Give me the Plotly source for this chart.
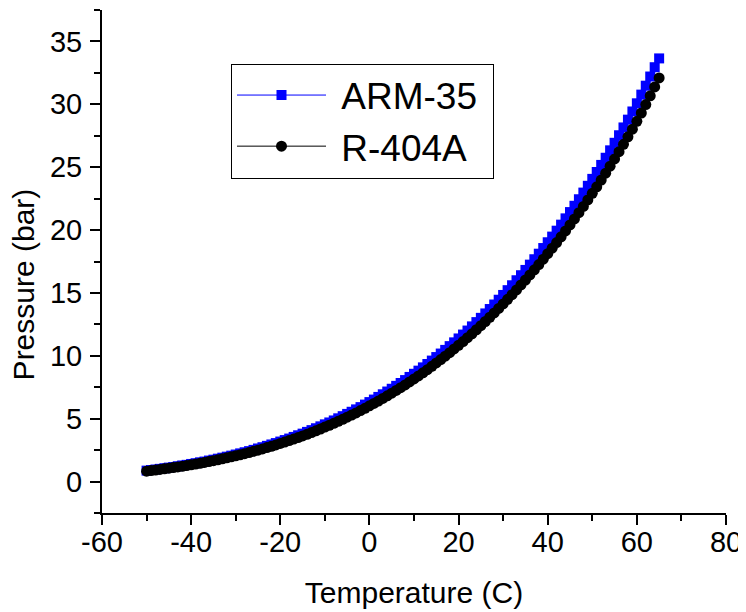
import plotly.graph_objects as go

temperature = list(range(-50, 66))

arm35 = [
    0.87, 0.92, 0.96, 1.01, 1.06, 1.11, 1.16, 1.22, 1.28, 1.33,
    1.40, 1.46, 1.53, 1.59, 1.67, 1.74, 1.82, 1.90, 1.98, 2.06,
    2.15, 2.24, 2.33, 2.42, 2.52, 2.63, 2.73, 2.84, 2.95, 3.06,
    3.18, 3.30, 3.42, 3.55, 3.68, 3.81, 3.95, 4.09, 4.24, 4.39,
    4.55, 4.70, 4.86, 5.03, 5.20, 5.38, 5.55, 5.74, 5.92, 6.12,
    6.32, 6.52, 6.73, 6.94, 7.16, 7.38, 7.61, 7.84, 8.07, 8.32,
    8.57, 8.82, 9.08, 9.35, 9.62, 9.90, 10.18, 10.47, 10.77, 11.07,
    11.38, 11.69, 12.01, 12.34, 12.68, 13.02, 13.37, 13.72, 14.08, 14.46,
    14.84, 15.22, 15.61, 16.01, 16.41, 16.83, 17.25, 17.68, 18.12, 18.57,
    19.03, 19.48, 19.95, 20.43, 20.93, 21.43, 21.93, 22.45, 22.98, 23.52,
    24.07, 24.62, 25.18, 25.75, 26.34, 26.94, 27.54, 28.16, 28.78, 29.43,
    30.08, 30.77, 31.48, 32.21, 32.95, 33.65,
]

r404a = [
    0.83, 0.872, 0.915, 0.961, 1.009, 1.06, 1.109, 1.161, 1.215, 1.271,
    1.33, 1.390, 1.453, 1.519, 1.588, 1.66, 1.732, 1.806, 1.884, 1.965,
    2.05, 2.133, 2.219, 2.309, 2.403, 2.50, 2.598, 2.700, 2.806, 2.916,
    3.03, 3.142, 3.257, 3.377, 3.501, 3.63, 3.760, 3.895, 4.035, 4.180,
    4.33, 4.478, 4.630, 4.788, 4.951, 5.12, 5.288, 5.462, 5.642, 5.828,
    6.02, 6.210, 6.405, 6.607, 6.815, 7.03, 7.243, 7.462, 7.688, 7.921,
    8.16, 8.400, 8.647, 8.901, 9.162, 9.43, 9.697, 9.971, 10.253, 10.543,
    10.84, 11.136, 11.440, 11.752, 12.073, 12.40, 12.729, 13.067, 13.413, 13.769,
    14.13, 14.492, 14.863, 15.243, 15.633, 16.03, 16.428, 16.836, 17.253, 17.681,
    18.12, 18.556, 19.003, 19.461, 19.930, 20.41, 20.889, 21.380, 21.882, 22.396,
    22.92, 23.443, 23.978, 24.525, 25.084, 25.66, 26.231, 26.816, 27.413, 28.024,
    28.65, 29.309, 29.983, 30.673, 31.378, 32.10,
]

x_ticks = [-60, -40, -20, 0, 20, 40, 60, 80]
y_ticks = [0, 5, 10, 15, 20, 25, 30, 35]

FONT = "Arial, Liberation Sans, sans-serif"
NBSP = "\u00a0"

fig = go.Figure()
fig.add_trace(go.Scatter(
    x=temperature, y=arm35, name=NBSP + "ARM-35" + NBSP, mode="lines+markers",
    line=dict(color="#0000ff", width=1),
    marker=dict(symbol="square", size=10, color="#0000ff"),
))
fig.add_trace(go.Scatter(
    x=temperature, y=r404a, name=NBSP + "R-404A" + NBSP, mode="lines+markers",
    line=dict(color="#000000", width=1),
    marker=dict(symbol="circle", size=11, color="#000000"),
))

axis_common = dict(
    showgrid=False, zeroline=False, showline=True, linecolor="black", linewidth=2,
    ticks="outside", ticklen=10, tickwidth=2, tickcolor="black", automargin=False,
    tickfont=dict(family=FONT, size=29, color="black"),
)

fig.update_xaxes(
    range=[-60, 80], tickvals=x_ticks, ticktext=[str(v) for v in x_ticks],
    minor=dict(dtick=10, tick0=0, ticks="outside", ticklen=6, tickwidth=2, tickcolor="black"),
    title=dict(text="Temperature (C)", font=dict(family=FONT, size=30, color="black"), standoff=25),
    ticklabelstandoff=-8,
    **axis_common,
)
fig.update_yaxes(
    range=[-2.5, 37.5], tickvals=y_ticks, ticktext=[str(v) for v in y_ticks],
    minor=dict(dtick=2.5, tick0=0, ticks="outside", ticklen=6, tickwidth=2, tickcolor="black"),
    ticklabelstandoff=2,
    **axis_common,
)

fig.add_annotation(
    text="Pressure (bar)", textangle=-90, xref="paper", yref="paper",
    x=-0.126, y=(513 - 284) / 503, xanchor="center", yanchor="middle",
    showarrow=False, font=dict(family=FONT, size=30, color="black"),
)

# the page body adds an 8px offset, so margins are reduced by 8px on left/top
fig.update_layout(
    width=738, height=604,
    margin=dict(l=94, r=20, t=2, b=99, autoexpand=False),
    paper_bgcolor="white", plot_bgcolor="white",
    showlegend=True,
    legend=dict(
        x=(231 - 102) / 624, y=(513 - 121) / 503, xanchor="left", yanchor="middle",
        bordercolor="black", borderwidth=1, bgcolor="white",
        font=dict(family=FONT, size=37, color="black"),
        itemwidth=89, tracegroupgap=0,
    ),
)

fig.write_html("out.html")
